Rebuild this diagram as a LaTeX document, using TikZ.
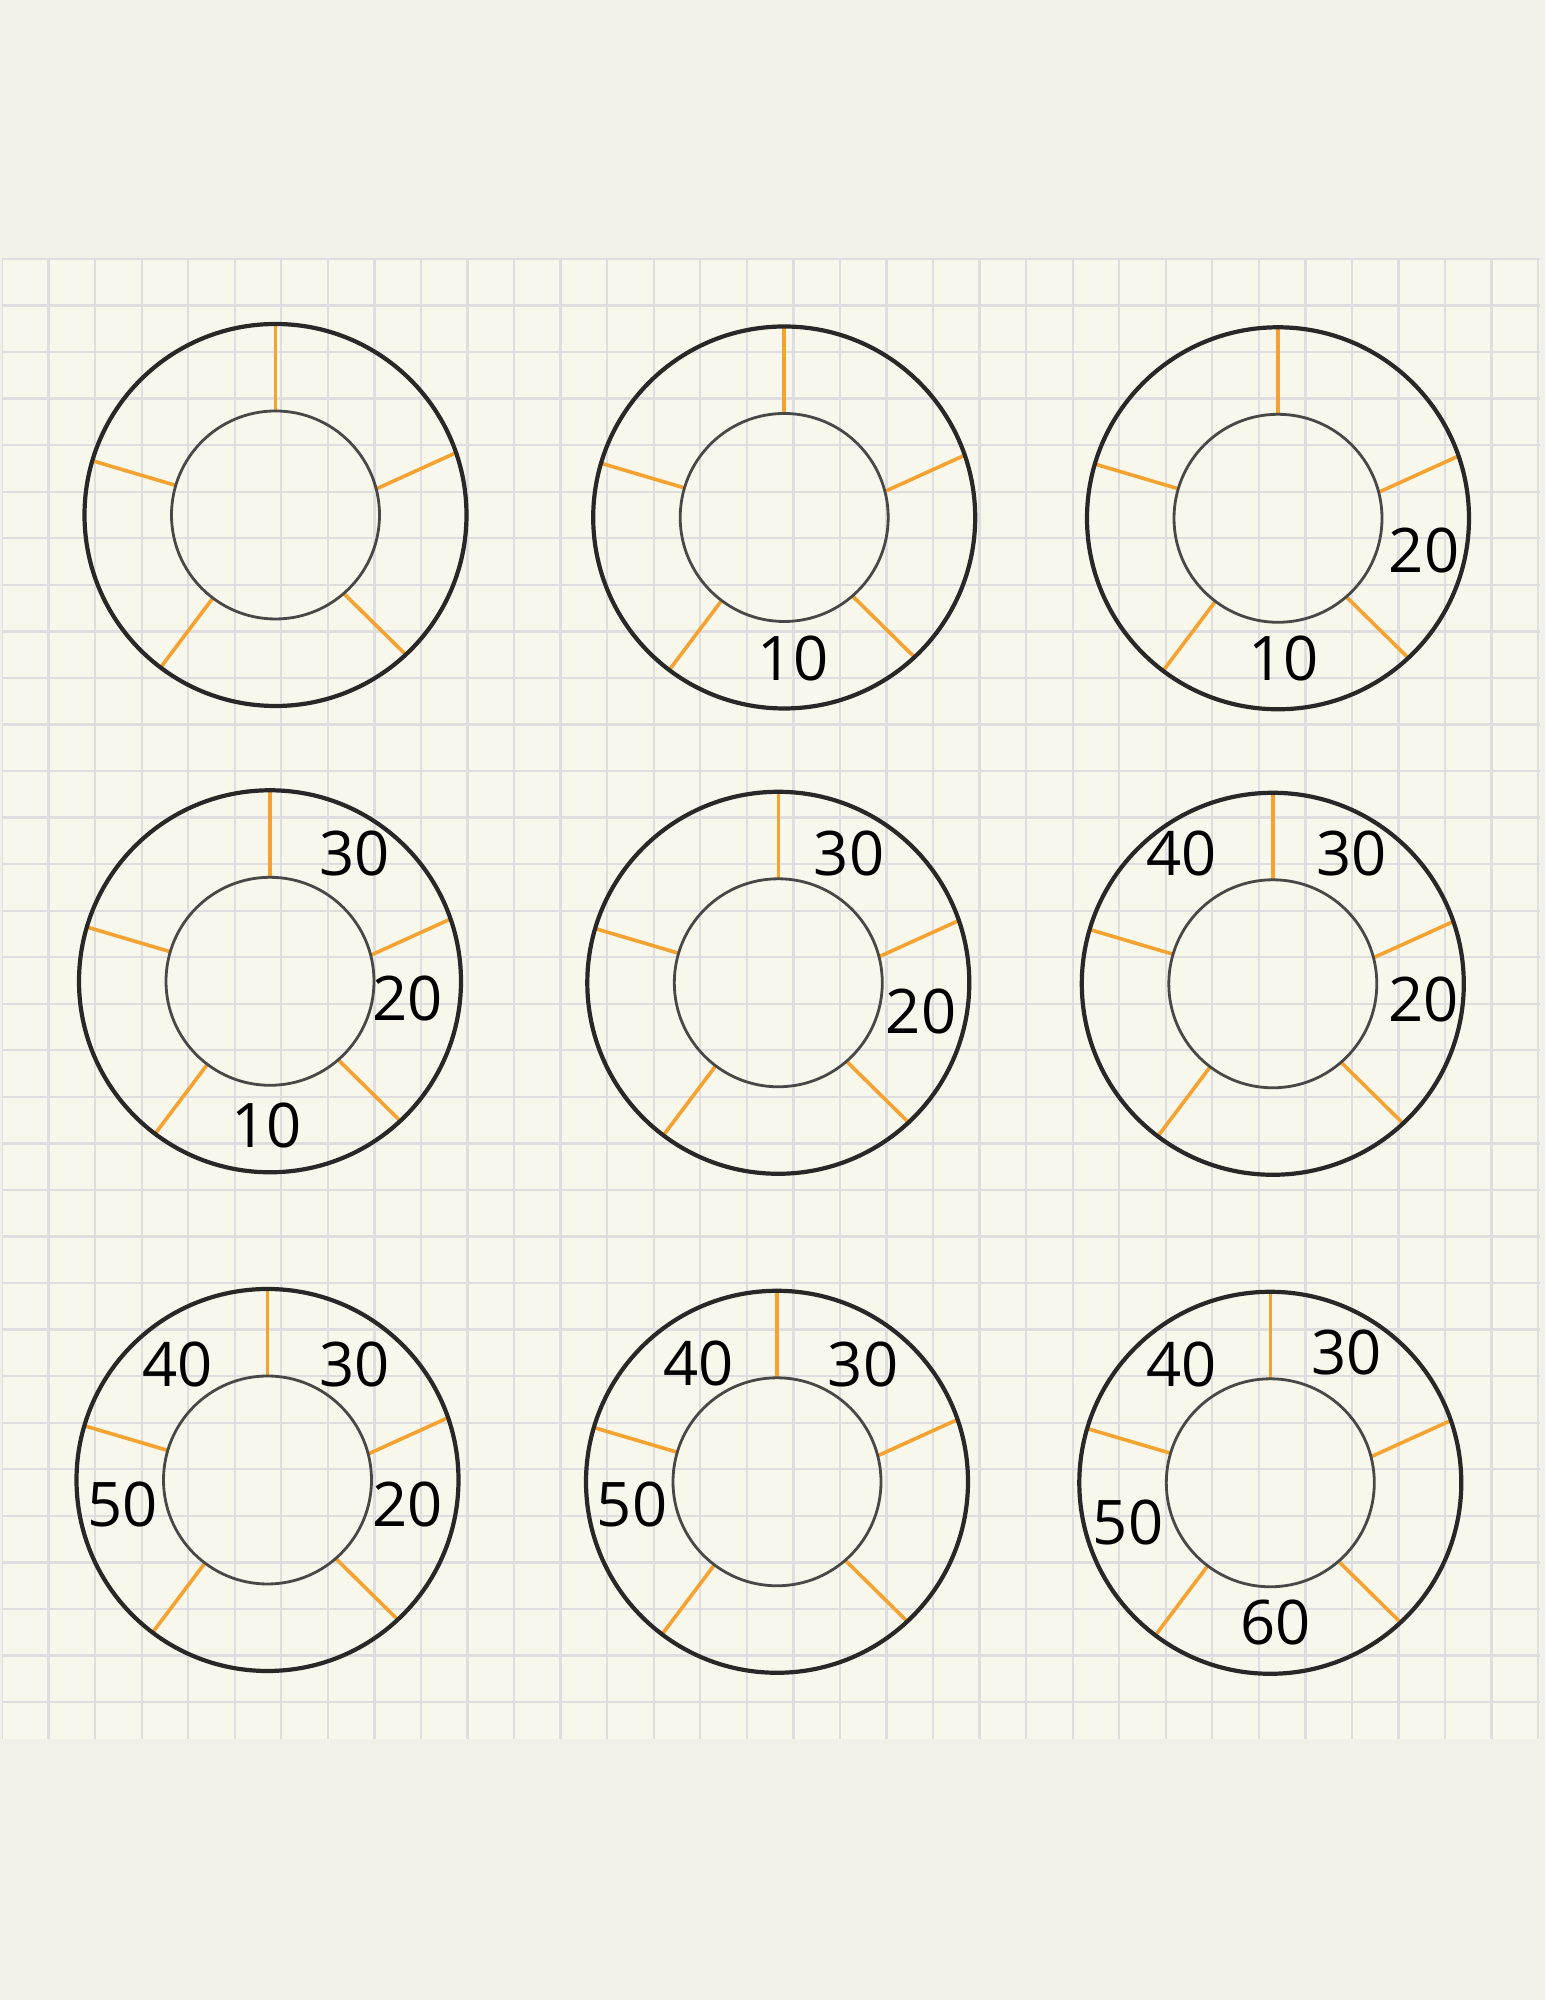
\documentclass[tikz,border=0pt]{standalone}
\usepackage{fontspec}
\setmainfont{Open Sans}
\definecolor{paper}{HTML}{F1F0E9}
\definecolor{sheet}{HTML}{F8F7EB}
\definecolor{gridline}{HTML}{DEDEE1}
\definecolor{spokeorange}{HTML}{F5A231}
\definecolor{inkdark}{HTML}{282828}

\begin{document}
\begin{tikzpicture}[x=1pt,y=1pt,
  ring/.style={draw=inkdark,line width=4.2pt},
  hub/.style={draw=inkdark!85,line width=2.8pt},
  spoke/.style={draw=spokeorange,line width=3.6pt},
  num/.style={inner sep=0pt,font=\fontsize{61.5}{70}\selectfont}]
\fill[paper] (0,0) rectangle (1545,2000);
\useasboundingbox (0,0) rectangle (1545,2000);
% grid paper
\fill[sheet] (2,261) rectangle (1540,1741);
\begin{scope}
  \clip (2,261) rectangle (1540,1741);
  \foreach \k in {0,...,33}
    \draw[gridline,line width=2.3pt] (2+46.55*\k,261) -- ++(0,1480);
  \foreach \k in {0,...,31}
    \draw[gridline,line width=2.3pt] (2,1741-46.55*\k) -- ++(1538,0);
\end{scope}
% the nine rings
\foreach \cx/\cy [count=\i] in {275.5/1485, 784.2/1482.5, 1278/1481.7,
    270/1018.7, 778.3/1017.2, 1272.8/1016.2,
    267.5/520, 777/518.2, 1270.3/517.2}{
  \coordinate (c\i) at (\cx,\cy);
  \foreach \a/\b in {90/90,14.5/19,163.5/163.5,233/233,311/313}
    \draw[spoke,shift={(c\i)}] (\a:104) -- (\b:190);
  \draw[ring] (c\i) circle (191);
  \draw[hub] (c\i) circle (104);
}
% row 1
\node[num] (r2a) at (793,1341.3) {10};
\node[num] (r3a) at (1424,1449.5) {20};
\node[num] (r3b) at (1283.3,1341.7) {10};
% row 2
\node[num] (r4a) at (354.7,1146.5) {30};
\node[num] (r4b) at (407.8,1001) {20};
\node[num] (r4c) at (266.7,874.7) {10};
\node[num] (r5a) at (849,1146.5) {30};
\node[num] (r5b) at (921,988.3) {20};
\node[num] (r6a) at (1181.5,1146.2) {40};
\node[num] (r6b) at (1351.7,1146.5) {30};
\node[num] (r6c) at (1423.7,1000.8) {20};
% row 3
\node[num] (r7a) at (177.8,635.8) {40};
\node[num] (r7b) at (354.7,635.8) {30};
\node[num] (r7c) at (122.7,495) {50};
\node[num] (r7d) at (407.8,495) {20};
\node[num] (r8a) at (698.2,636.5) {40};
\node[num] (r8b) at (863,635) {30};
\node[num] (r8c) at (632,495.3) {50};
\node[num] (r9a) at (1181.5,635.8) {40};
\node[num] (r9b) at (1346.7,647) {30};
\node[num] (r9c) at (1128,477.2) {50};
\node[num] (r9d) at (1275.3,377.2) {60};
\end{tikzpicture}
\end{document}
